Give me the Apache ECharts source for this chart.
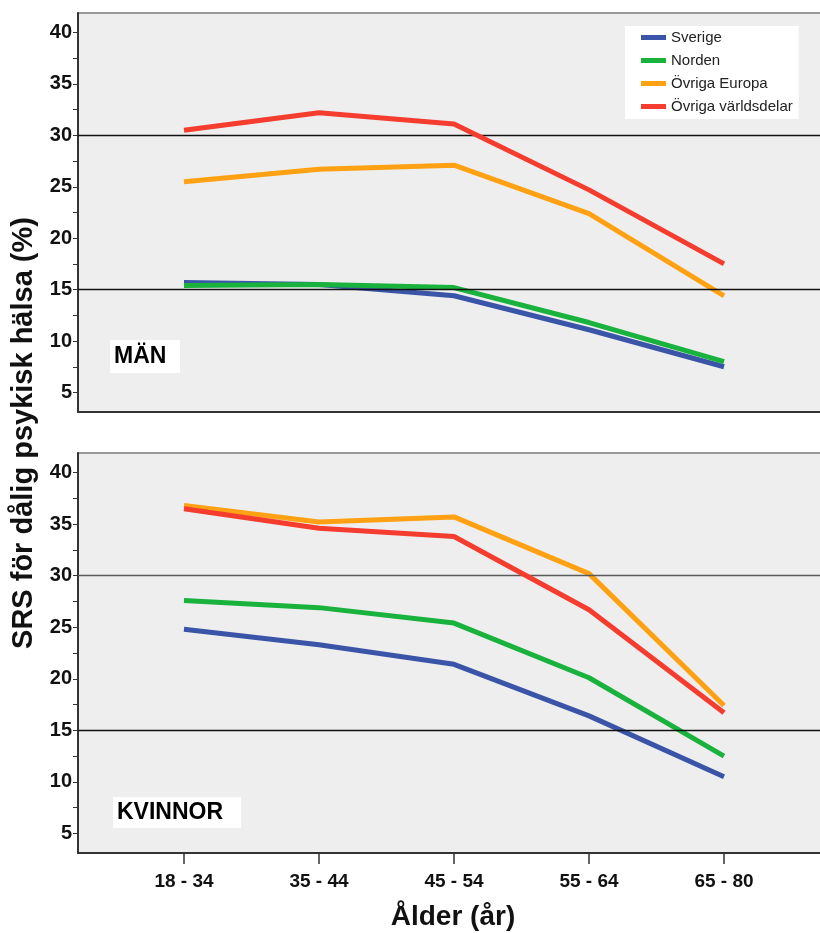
<!DOCTYPE html>
<html>
<head>
<meta charset="utf-8">
<script src="https://cdn.jsdelivr.net/npm/echarts@6/dist/echarts.min.js"></script>
<style>
  html, body { margin: 0; padding: 0; background: #fff; }
  #chart { width: 820px; height: 933px; }
</style>
</head>
<body>
<div id="chart"></div>
<script>
// kategorier och serier
var ageGroups = ["18 - 34", "35 - 44", "45 - 54", "55 - 64", "65 - 80"];
var seriesNames = ["Sverige", "Norden", "Övriga Europa", "Övriga världsdelar"];
var seriesColors = ["#3a55a8", "#19b23d", "#ffa112", "#f43d2f"];

// MÄN
var manSverige = [15.7, 15.5, 14.4, 11.1, 7.5];
var manNorden = [15.4, 15.5, 15.2, 11.8, 8.0];
var manEuropa = [25.5, 26.7, 27.1, 22.4, 14.4];
var manVarlden = [30.5, 32.2, 31.1, 24.7, 17.5];

// KVINNOR
var kvinnaSverige = [24.8, 23.3, 21.4, 16.4, 10.5];
var kvinnaNorden = [27.6, 26.9, 25.4, 20.1, 12.5];
var kvinnaEuropa = [36.8, 35.2, 35.7, 30.2, 17.4];
var kvinnaVarlden = [36.5, 34.6, 33.8, 26.7, 16.7];

// axlar
var yTickLabels = [5, 10, 15, 20, 25, 30, 35, 40];
var yTickMarks = [5, 7.5, 10, 12.5, 15, 17.5, 20, 22.5, 25, 27.5, 30, 32.5, 35, 37.5, 40];
var xPositions = [0, 1, 2, 3, 4];
var refLines = [15, 30];

var manData = [manSverige, manNorden, manEuropa, manVarlden];
var kvinnaData = [kvinnaSverige, kvinnaNorden, kvinnaEuropa, kvinnaVarlden];

var FONT = "Liberation Sans, Arial, sans-serif";

function pairs(values) {
  return values.map(function (v, i) { return [xPositions[i], v]; });
}

function xAxis(gridIndex, showLabels) {
  return {
    type: "value",
    gridIndex: gridIndex,
    min: -0.785,
    max: 4.785,
    splitLine: { show: false },
    axisLine: { show: true, onZero: false, lineStyle: { color: "#333", width: 2 } },
    axisTick: {
      show: showLabels,
      customValues: xPositions,
      length: 11,
      lineStyle: { color: "#333", width: 1.5 }
    },
    axisLabel: {
      show: showLabels,
      customValues: xPositions,
      margin: 19,
      fontFamily: FONT,
      fontWeight: "bold",
      fontSize: 19,
      color: "#111",
      formatter: function (v) { return ageGroups[Math.round(v)]; }
    }
  };
}

function yAxis(gridIndex) {
  return {
    type: "value",
    gridIndex: gridIndex,
    min: 3.1,
    max: 41.9,
    splitLine: { show: false },
    axisLine: { show: true, onZero: false, lineStyle: { color: "#333", width: 2 } },
    axisTick: {
      show: true,
      customValues: yTickMarks,
      length: 5,
      lineStyle: { color: "#333", width: 1 }
    },
    axisLabel: {
      customValues: yTickLabels,
      margin: 6,
      fontFamily: FONT,
      fontWeight: "bold",
      fontSize: 20,
      color: "#111"
    }
  };
}

function panelSeries(data, gridIndex, refColors) {
  var list = [{
    type: "line",
    xAxisIndex: gridIndex,
    yAxisIndex: gridIndex,
    data: [],
    silent: true,
    z: 1,
    markLine: {
      silent: true,
      symbol: "none",
      label: { show: false },
      data: refLines.map(function (v, i) {
        return { yAxis: v, lineStyle: { color: refColors[i], width: 1.3, type: "solid" } };
      })
    }
  }];
  data.forEach(function (values, i) {
    list.push({
      name: seriesNames[i],
      type: "line",
      xAxisIndex: gridIndex,
      yAxisIndex: gridIndex,
      data: pairs(values),
      symbol: "none",
      z: 2 + i,
      lineStyle: { color: seriesColors[i], width: 5 },
      itemStyle: { color: seriesColors[i] }
    });
  });
  return list;
}

var chart = echarts.init(document.getElementById("chart"), null, { renderer: "canvas" });

chart.setOption({
  backgroundColor: "#fff",
  animation: false,
  grid: [
    { left: 78, width: 752, top: 13, height: 399, outerBoundsMode: "none", containLabel: false, show: true, backgroundColor: "#eeeeee", borderColor: "#9a9a9a", borderWidth: 2 },
    { left: 78, width: 752, top: 453, height: 400, outerBoundsMode: "none", containLabel: false, show: true, backgroundColor: "#eeeeee", borderColor: "#9a9a9a", borderWidth: 2 }
  ],
  xAxis: [xAxis(0, false), xAxis(1, true)],
  yAxis: [yAxis(0), yAxis(1)],
  legend: {
    data: seriesNames,
    orient: "vertical",
    left: 625,
    top: 26,
    padding: [4, 6, 5, 16],
    itemGap: 8,
    itemWidth: 25,
    itemHeight: 5,
    icon: "rect",
    backgroundColor: "#fff",
    textStyle: { fontFamily: FONT, fontSize: 15, color: "#222", lineHeight: 15 }
  },
  graphic: [
    {
      type: "text",
      x: 24, y: 433,
      rotation: Math.PI / 2,
      style: {
        text: "SRS för dålig psykisk hälsa (%)",
        fontFamily: FONT, fontWeight: "bold", fontSize: 29, fill: "#111",
        align: "center", verticalAlign: "middle"
      }
    },
    {
      type: "text",
      x: 453, y: 917,
      style: {
        text: "Ålder (år)",
        fontFamily: FONT, fontWeight: "bold", fontSize: 28, fill: "#111",
        align: "center", verticalAlign: "middle"
      }
    },
    { type: "rect", shape: { x: 110, y: 340, width: 70, height: 33 }, style: { fill: "#fff" }, z: 10 },
    {
      type: "text", x: 114, y: 357, z: 11,
      style: { text: "MÄN", fontFamily: FONT, fontWeight: "bold", fontSize: 23, fill: "#000", verticalAlign: "middle" }
    },
    { type: "rect", shape: { x: 113, y: 797, width: 128, height: 31 }, style: { fill: "#fff" }, z: 10 },
    {
      type: "text", x: 117, y: 813, z: 11,
      style: { text: "KVINNOR", fontFamily: FONT, fontWeight: "bold", fontSize: 23, fill: "#000", verticalAlign: "middle" }
    }
  ],
  series: panelSeries(manData, 0, ["#111", "#111"]).concat(panelSeries(kvinnaData, 1, ["#111", "#5a5a5a"]))
});
</script>
</body>
</html>
